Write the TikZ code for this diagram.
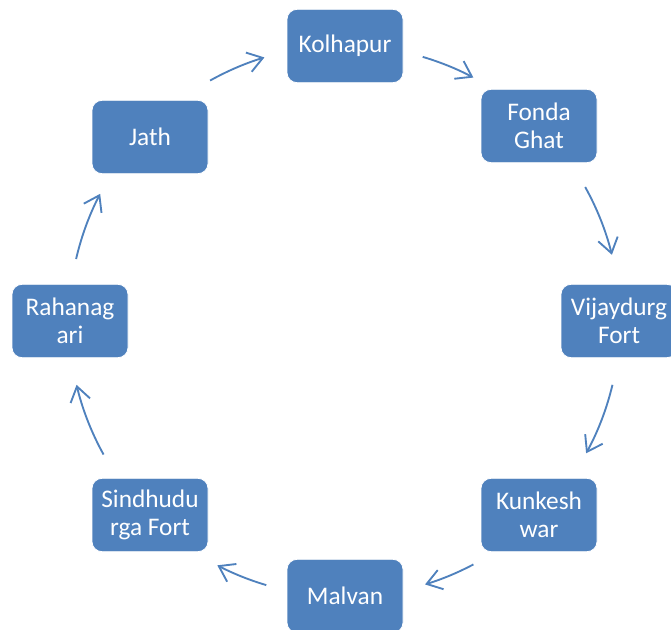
\documentclass[tikz,border=0pt]{standalone}
\usepackage{fontspec}
\setmainfont{Carlito}
\usepackage{tikz}
\usetikzlibrary{arrows.meta,positioning}
\definecolor{boxblue}{RGB}{79,129,189}
\tikzset{
place/.style={
  rectangle, rounded corners=7.5pt,
  fill=boxblue, draw=white, line width=0.6pt,
  minimum width=87pt, minimum height=55pt,
  text=white, align=center,
  font=\fontsize{19}{20.8}\selectfont
},
cyc/.style={
  draw=boxblue, line width=1.4pt,
  -{Straight Barb[length=11pt,width=15pt,line width=1.4pt]}
},
}

\begin{document}
\begin{tikzpicture}[x=0.75pt,y=0.75pt]
\useasboundingbox (0,0) rectangle (671,629);
\coordinate (c) at (344.5,308);
% places round the cycle
\node[place] (kol) at (345,583) {Kolhapur};
\node[place] (fon) at (539,503) {Fonda\\Ghat};
\node[place] (vij) at (619,308) {Vijaydurg\\Fort};
\node[place] (kun) at (539,114) {Kunkesh\\war};
\node[place] (mal) at (345,33)  {Malvan};
\node[place] (sin) at (150,114) {Sindhudu\\rga Fort};
\node[place] (rah) at (70,308)  {Rahanag\\ari};
\node[place] (jat) at (150,492) {Jath};
% arrows on the circle
\foreach \a/\b in {73.5/62.1, 29.1/13.9, -13.4/-28.7, -62.1/-73,
                   -106.5/-117.5, -151/-166.6, 167/152.5, 119.2/106.9}
  \draw[cyc] ([shift={(\a:206.6pt)}]c) arc[start angle=\a, end angle=\b, radius=206.6pt];
\end{tikzpicture}
\end{document}
